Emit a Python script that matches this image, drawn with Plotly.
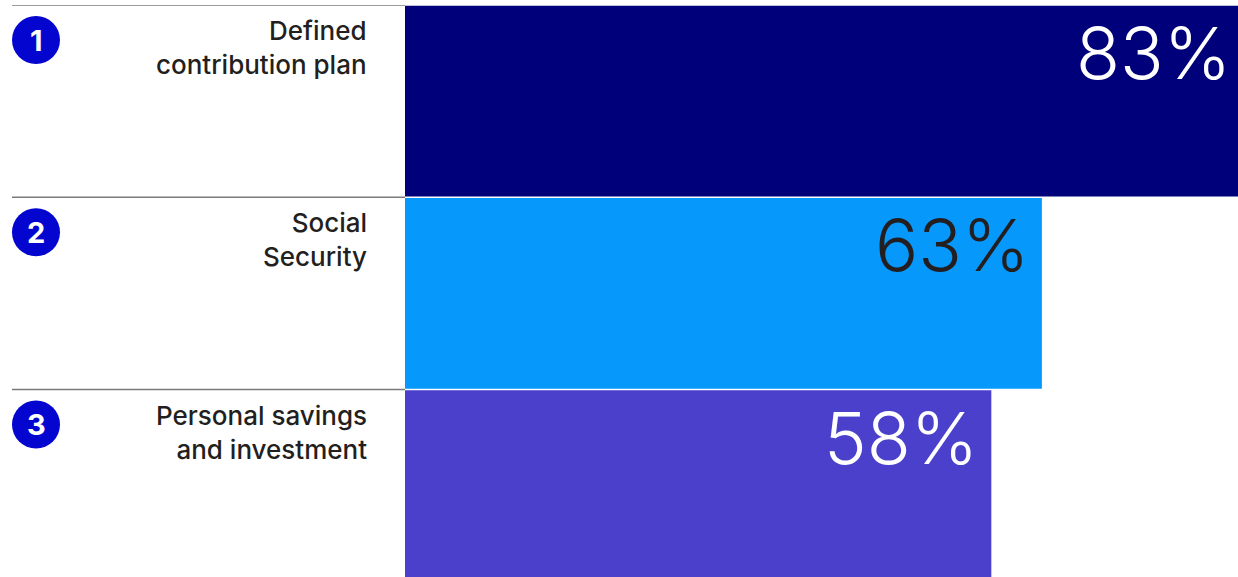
import plotly.graph_objects as go

categories = ["Defined<br>contribution plan", "Social<br>Security", "Personal savings<br>and investment"]
ranks = ["1", "2", "3"]
values = [83, 63, 58]
labels = ["83%", "63%", "58%"]
bar_colors = ["#00007A", "#0698FB", "#4A40CC"]
text_colors = ["#FFFFFF", "#231F20", "#FFFFFF"]

W, H = 1238, 577
XMAX = 82.4
PX_PER_UNIT = (W - 405) / XMAX
ypos = list(range(len(values)))

fig = go.Figure(go.Bar(
    x=values, y=ypos, orientation="h",
    marker=dict(color=bar_colors, line=dict(width=0)),
    hoverinfo="skip",
))

annotations = []
shapes = []
for i, (cat, rk, v, lab, tc) in enumerate(zip(categories, ranks, values, labels, text_colors)):
    top = i - 0.5
    shapes.append(dict(type="line", xref="paper", yref="y", x0=12 / W, x1=405 / W,
                       y0=top, y1=top, line=dict(color="#7A7A7A", width=1.5), layer="below"))
    shapes.append(dict(type="circle", xref="paper", yref="y", xsizemode="pixel", ysizemode="pixel",
                       xanchor=36 / W, yanchor=top, x0=-24, x1=24, y0=-59, y1=-11,
                       fillcolor="#0505D0", line=dict(width=0)))
    annotations.append(dict(xref="paper", yref="y", x=36 / W, y=top, yshift=-35,
                            text="<b>" + rk + "</b>", showarrow=False,
                            font=dict(family="Inter, Roboto, sans-serif", size=29, color="white"),
                            xanchor="center", yanchor="middle"))
    annotations.append(dict(xref="paper", yref="y", x=369 / W, y=top, yshift=-8,
                            text=cat, showarrow=False, align="right",
                            font=dict(family="Inter, Roboto, sans-serif", size=26, color="#231F20", weight=500),
                            xanchor="right", yanchor="top"))
    xa = min(v, XMAX)
    annotations.append(dict(xref="x", yref="y", x=xa, y=top,
                            xshift=-(11 - (v - xa) * PX_PER_UNIT), yshift=-2,
                            text=lab, showarrow=False,
                            font=dict(family="Inter, Roboto, sans-serif", size=72, color=tc, weight=300),
                            xanchor="right", yanchor="top"))

fig.update_layout(
    width=W, height=H,
    margin=dict(l=0, r=0, t=5, b=0),
    paper_bgcolor="white", plot_bgcolor="white",
    bargap=0.008,
    showlegend=False,
    xaxis=dict(domain=[405 / W, 1], range=[0, XMAX], visible=False, fixedrange=True),
    yaxis=dict(range=[2.475, -0.5], visible=False, fixedrange=True),
    shapes=shapes,
    annotations=annotations,
)

fig.write_html("out.html", config={"displayModeBar": False},
               post_script="document.body.style.margin='0';document.body.style.padding='0';")
